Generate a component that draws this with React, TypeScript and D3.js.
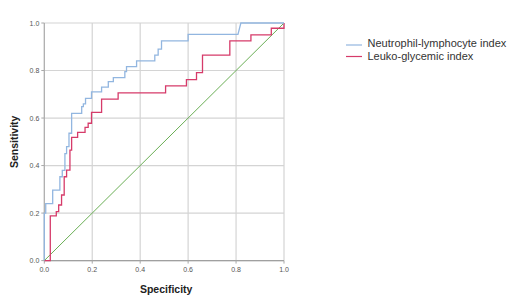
import React from "react";
import * as d3 from "d3";

const ticks = [0, 0.2, 0.4, 0.6, 0.8, 1.0];
const tickLabels = ["0.0", "0.2", "0.4", "0.6", "0.8", "1.0"];

const seriesNames = ["Neutrophil-lymphocyte index", "Leuko-glycemic index"];

// ROC step points (x = 1 - specificity axis value, y = sensitivity)
const nliX = [0, 0, 0.006, 0.006, 0.035, 0.035, 0.065, 0.065, 0.075, 0.075, 0.086, 0.086, 0.093, 0.093, 0.103, 0.103, 0.114, 0.114, 0.156, 0.156, 0.163, 0.163, 0.172, 0.172, 0.197, 0.197, 0.239, 0.239, 0.267, 0.267, 0.288, 0.288, 0.336, 0.336, 0.343, 0.343, 0.385, 0.385, 0.461, 0.461, 0.475, 0.475, 0.489, 0.489, 0.6, 0.6, 0.808, 0.82, 1.0];
const nliY = [0, 0.2, 0.2, 0.24, 0.24, 0.297, 0.297, 0.353, 0.353, 0.38, 0.38, 0.45, 0.45, 0.48, 0.48, 0.536, 0.536, 0.62, 0.62, 0.648, 0.648, 0.66, 0.66, 0.683, 0.683, 0.71, 0.71, 0.73, 0.73, 0.753, 0.753, 0.77, 0.77, 0.795, 0.795, 0.816, 0.816, 0.841, 0.841, 0.865, 0.865, 0.89, 0.89, 0.925, 0.925, 0.952, 0.952, 1.0, 1.0];

const lgiX = [0, 0.025, 0.025, 0.05, 0.05, 0.06, 0.06, 0.072, 0.072, 0.083, 0.083, 0.093, 0.093, 0.107, 0.107, 0.114, 0.114, 0.139, 0.139, 0.17, 0.17, 0.183, 0.183, 0.197, 0.197, 0.239, 0.239, 0.308, 0.308, 0.506, 0.506, 0.593, 0.593, 0.635, 0.635, 0.66, 0.66, 0.774, 0.774, 0.862, 0.862, 0.947, 0.947, 1.0, 1.0];
const lgiY = [0, 0, 0.188, 0.188, 0.206, 0.206, 0.234, 0.234, 0.276, 0.276, 0.353, 0.353, 0.381, 0.381, 0.465, 0.465, 0.519, 0.519, 0.54, 0.54, 0.561, 0.561, 0.578, 0.578, 0.624, 0.624, 0.68, 0.68, 0.706, 0.706, 0.735, 0.735, 0.762, 0.762, 0.791, 0.791, 0.865, 0.865, 0.925, 0.925, 0.95, 0.95, 0.978, 0.978, 1.0];

const refX = [0, 1];
const refY = [0, 1];

const colors = ["#92b6e0", "#d63b6a", "#6aae55"];

export default function App() {
  const W = 527, H = 308;
  const left = 44.3, right = 284, top = 23, bottom = 260.6;
  const x = d3.scaleLinear().domain([0, 1]).range([left, right]);
  const y = d3.scaleLinear().domain([0, 1]).range([bottom, top]);
  const line = d3.line<[number, number]>().x(d => x(d[0])).y(d => y(d[1]));
  const zip = (a: number[], b: number[]) => a.map((v, i) => [v, b[i]] as [number, number]);
  const font = "Arial, 'Liberation Sans', sans-serif";

  return (
    <svg width={W} height={H} style={{ position: "absolute", left: 0, top: 0, background: "#fff" }} fontFamily={font}>
      {ticks.map((t, i) => (
        <g key={"g" + i}>
          <line x1={x(t)} x2={x(t)} y1={top} y2={bottom} stroke="#d4d4d4" strokeWidth={1.2} />
          <line x1={left} x2={right} y1={y(t)} y2={y(t)} stroke="#d4d4d4" strokeWidth={1.2} />
        </g>
      ))}
      <line x1={left} x2={left} y1={top} y2={bottom} stroke="#a8a8a8" strokeWidth={1} />
      <line x1={left} x2={right} y1={bottom} y2={bottom} stroke="#a0a0a0" strokeWidth={1.2} />
      {ticks.map((t, i) => (
        <g key={"t" + i}>
          <line x1={x(t)} x2={x(t)} y1={bottom} y2={bottom + 3} stroke="#a8a8a8" />
          <line x1={left - 3} x2={left} y1={y(t)} y2={y(t)} stroke="#a8a8a8" />
          <text x={x(t)} y={bottom + 11} fontSize={7} fill="#555" textAnchor="middle">{tickLabels[i]}</text>
          <text x={left - 5} y={y(t) + 2.5} fontSize={7} fill="#555" textAnchor="end">{tickLabels[i]}</text>
        </g>
      ))}
      <path d={line(zip(refX, refY)) || ""} fill="none" stroke={colors[2]} strokeWidth={1} />
      <path d={line(zip(lgiX, lgiY)) || ""} fill="none" stroke={colors[1]} strokeWidth={1.3} />
      <path d={line(zip(nliX, nliY)) || ""} fill="none" stroke={colors[0]} strokeWidth={1.3} />
      <text x={(left + right) / 2 + 2} y={293} fontSize={10.5} fontWeight="bold" fill="#222" textAnchor="middle">Specificity</text>
      <text transform={`translate(18,${(top + bottom) / 2}) rotate(-90)`} fontSize={10.5} fontWeight="bold" fill="#222" textAnchor="middle">Sensitivity</text>
      {seriesNames.map((n, i) => (
        <g key={"l" + i}>
          <line x1={346} x2={362} y1={45 + i * 11.5} y2={45 + i * 11.5} stroke={colors[i]} strokeWidth={1.2} />
          <text x={367.5} y={47.3 + i * 12.5} fontSize={11} fill="#333">{n}</text>
        </g>
      ))}
    </svg>
  );
}
